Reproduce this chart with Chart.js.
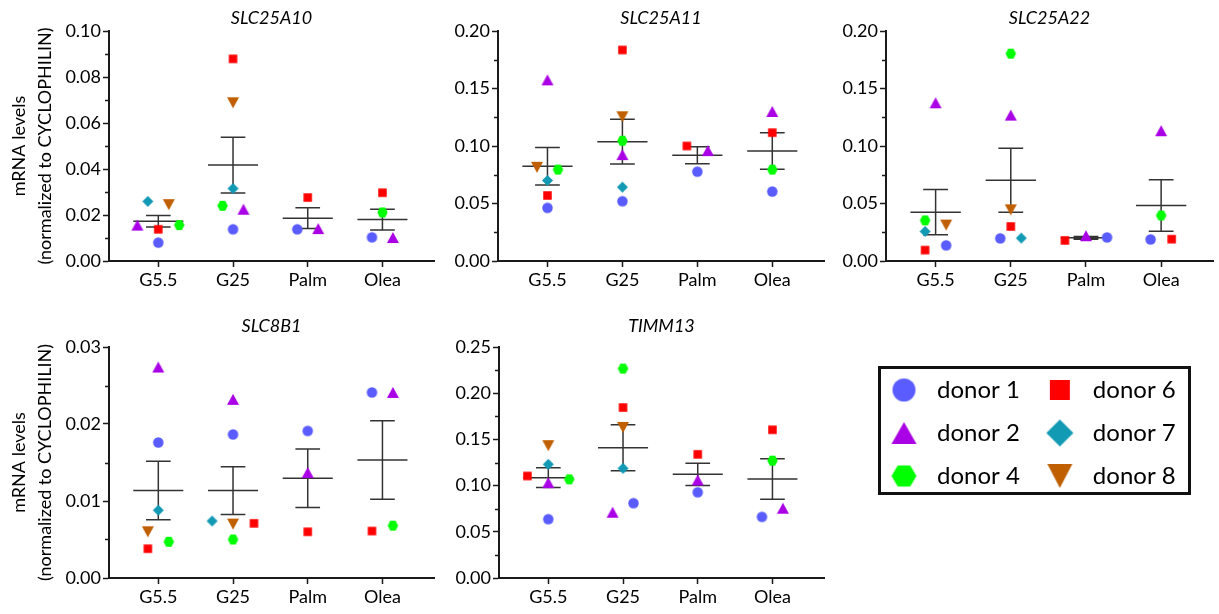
<!DOCTYPE html>
<html>
<head>
<meta charset="utf-8">
<script src="https://cdn.jsdelivr.net/npm/chart.js@4"></script>
<style>
  html, body { margin: 0; padding: 0; background: #fff; }
  #wrap { position: relative; width: 1219px; height: 614px; overflow: hidden; }
  #wrap canvas, .legend-box { position: absolute; }
  .legend-box { left: 878px; top: 366px; width: 313px; height: 129px; border: 3px solid #111; box-sizing: border-box; }
</style>
</head>
<body>
<div id="wrap">
  <canvas id="c1" width="440" height="300" style="left:0;top:0"></canvas>
  <canvas id="c2" width="390" height="300" style="left:440px;top:0"></canvas>
  <canvas id="c3" width="389" height="300" style="left:830px;top:0"></canvas>
  <canvas id="c4" width="440" height="314" style="left:0;top:300px"></canvas>
  <canvas id="c5" width="390" height="314" style="left:440px;top:300px"></canvas>
  <div class="legend-box"></div>
  <canvas id="leg" width="350" height="170" style="left:864px;top:359px"></canvas>
</div>
<script>
// ---- data ----
const groups = ['G5.5', 'G25', 'Palm', 'Olea'];
const donors = ['donor 1', 'donor 2', 'donor 4', 'donor 6', 'donor 7', 'donor 8'];

// one row per donor (1, 2, 4, 6, 7, 8), one column per group, null = no sample
const slc25a10 = [
  [0.0080, 0.0138, 0.0138, 0.0103],
  [0.0156, 0.0225, 0.0141, 0.0102],
  [0.0156, 0.0240, null, 0.0211],
  [0.0138, 0.0879, 0.0276, 0.0297],
  [0.0259, 0.0315, null, null],
  [0.0245, 0.0688, null, null]
];
const slc25a10Mean = [0.0173, 0.0417, 0.0186, 0.0180];
const slc25a10Sem = [0.0025, 0.0121, 0.0045, 0.0045];
const slc25a10Ticks = [0, 0.02, 0.04, 0.06, 0.08, 0.10];

const slc25a11 = [
  [0.0462, 0.0520, 0.0777, 0.0604],
  [0.1575, 0.0925, 0.0960, 0.1300],
  [0.0795, 0.1046, null, 0.0795],
  [0.0570, 0.1835, 0.1000, 0.1116],
  [0.0700, 0.0642, null, null],
  [0.0815, 0.1254, null, null]
];
const slc25a11Mean = [0.0824, 0.1038, 0.0919, 0.0957];
const slc25a11Sem = [0.0164, 0.0194, 0.0074, 0.0159];
const slc25a11Ticks = [0, 0.05, 0.10, 0.15, 0.20];

const slc25a22 = [
  [0.0136, 0.0197, 0.0205, 0.0188],
  [0.1376, 0.1269, 0.0220, 0.1133],
  [0.0353, 0.1803, null, 0.0396],
  [0.0095, 0.0300, 0.0179, 0.0190],
  [0.0257, 0.0199, null, null],
  [0.0312, 0.0445, null, null]
];
const slc25a22Mean = [0.0425, 0.0702, 0.0202, 0.0483];
const slc25a22Sem = [0.0197, 0.0279, 0.0012, 0.0224];
const slc25a22Ticks = [0, 0.05, 0.10, 0.15, 0.20];

const slc8b1 = [
  [0.0176, 0.01865, 0.0191, 0.0241],
  [0.0274, 0.0232, 0.0137, 0.0241],
  [0.0047, 0.0050, null, 0.0068],
  [0.0038, 0.0071, 0.0060, 0.0061],
  [0.0088, 0.0074, null, null],
  [0.0060, 0.0070, null, null]
];
const slc8b1Mean = [0.01135, 0.01135, 0.01295, 0.01532];
const slc8b1Sem = [0.0038, 0.0031, 0.0038, 0.0051];
const slc8b1Ticks = [0, 0.01, 0.02, 0.03];

const timm13 = [
  [0.0637, 0.0810, 0.0928, 0.0662],
  [0.1032, 0.0712, 0.1061, 0.0755],
  [0.1068, 0.2266, null, 0.1270],
  [0.1104, 0.1845, 0.1338, 0.1604],
  [0.1230, 0.1187, null, null],
  [0.1432, 0.1630, null, null]
];
const timm13Mean = [0.1086, 0.1410, 0.1122, 0.1072];
const timm13Sem = [0.0106, 0.0248, 0.0120, 0.0219];
const timm13Ticks = [0, 0.05, 0.10, 0.15, 0.20, 0.25];

// ---- layout / style ----
// side-by-side scatter offsets of overlapping points, in steps
const jit10 = [[0, 0, -1, -1], [-2, 1, 1, 1], [2, -1, 0, 0], [0, 0, 0, 0], [-1, 0, 0, 0], [1, 0, 0, 0]];
const jit11 = [[0, 0, 0, 0], [0, 0, 1, 0], [1, 0, 0, 0], [0, 0, -1, 0], [0, 0, 0, 0], [-1, 0, 0, 0]];
const jit22 = [[1, -1, 2, -1], [0, 0, 0, 0], [-1, 0, 0, 0], [-1, 0, -2, 1], [-1, 1, 0, 0], [1, 0, 0, 0]];
const jit8b1 = [[0, 0, 0, -1], [0, 0, 0, 1], [1, 0, 0, 1], [-1, 2, 0, -1], [0, -2, 0, 0], [-1, 0, 0, 0]];
const jitT13 = [[0, 1, 0, -1], [0, -1, 0, 1], [2, 0, 0, 0], [-2, 0, 0, 0], [0, 0, 0, 0], [0, 0, 0, 0]];
const JIT = 0.14;

const FONT = 'Lato, "Open Sans", sans-serif';
const INK = '#1a1a1a';
const donorColors = ['#5a5cff', '#aa00e6', '#00ff00', '#ff0000', '#1299b4', '#c05f00'];
const donorShapes = ['circle', 'triangle', 'hexagon', 'square', 'diamond', 'triangleDown'];
const plotSizes = [[10.5, 10.5], [12, 11], [10.5, 10], [8.5, 8.5], [11, 11], [12, 11]];
const legendSizes = [[23, 23], [25, 22], [25, 21], [20, 20], [27, 27], [25, 24]];

function makeMarker(shape, color, w, h) {
  const c = document.createElement('canvas');
  c.width = Math.ceil(w) + 2;
  c.height = Math.ceil(h) + 2;
  const g = c.getContext('2d');
  const cx = c.width / 2, cy = c.height / 2, rx = w / 2, ry = h / 2;
  g.fillStyle = color;
  g.beginPath();
  if (shape === 'circle') {
    g.ellipse(cx, cy, rx, ry, 0, 0, Math.PI * 2);
  } else if (shape === 'triangle') {
    g.moveTo(cx, cy - ry); g.lineTo(cx + rx, cy + ry); g.lineTo(cx - rx, cy + ry);
  } else if (shape === 'triangleDown') {
    g.moveTo(cx - rx, cy - ry); g.lineTo(cx + rx, cy - ry); g.lineTo(cx, cy + ry);
  } else if (shape === 'square') {
    g.rect(cx - rx, cy - ry, w, h);
  } else if (shape === 'diamond') {
    g.moveTo(cx, cy - ry); g.lineTo(cx + rx, cy); g.lineTo(cx, cy + ry); g.lineTo(cx - rx, cy);
  } else if (shape === 'hexagon') {
    g.moveTo(cx - rx, cy); g.lineTo(cx - rx / 2, cy - ry); g.lineTo(cx + rx / 2, cy - ry);
    g.lineTo(cx + rx, cy); g.lineTo(cx + rx / 2, cy + ry); g.lineTo(cx - rx / 2, cy + ry);
  }
  g.closePath();
  g.fill();
  return c;
}

const plotMarkers = donorShapes.map((s, k) => makeMarker(s, donorColors[k], plotSizes[k][0], plotSizes[k][1]));
const legendMarkers = donorShapes.map((s, k) => makeMarker(s, donorColors[k], legendSizes[k][0], legendSizes[k][1]));

// mean line + SEM whiskers, drawn behind the points
function meanSem(means, sems) {
  return {
    id: 'meanSem',
    beforeDatasetsDraw(chart) {
      const {ctx, scales: {x, y}} = chart;
      ctx.save();
      ctx.strokeStyle = '#333';
      ctx.lineWidth = 1.5;
      means.forEach((m, i) => {
        const px = x.getPixelForValue(i);
        const mw = x.getPixelForValue(i + 0.335) - px;
        const cw = x.getPixelForValue(i + 0.165) - px;
        const ym = y.getPixelForValue(m);
        const yu = y.getPixelForValue(m + sems[i]);
        const yl = y.getPixelForValue(m - sems[i]);
        ctx.beginPath();
        ctx.moveTo(px - mw, ym); ctx.lineTo(px + mw, ym);
        ctx.moveTo(px, yu); ctx.lineTo(px, yl);
        ctx.moveTo(px - cw, yu); ctx.lineTo(px + cw, yu);
        ctx.moveTo(px - cw, yl); ctx.lineTo(px + cw, yl);
        ctx.stroke();
      });
      ctx.restore();
    }
  };
}

// short minor ticks half way between the labelled ones
const minorTicks = {
  id: 'minorTicks',
  afterDraw(chart) {
    const {ctx, chartArea, scales: {y}} = chart;
    ctx.save();
    ctx.strokeStyle = INK;
    ctx.lineWidth = 1.5;
    ctx.beginPath();
    for (let i = 0; i < y.ticks.length - 1; i++) {
      const py = Math.round(y.getPixelForValue((y.ticks[i].value + y.ticks[i + 1].value) / 2)) + 0.5;
      ctx.moveTo(chartArea.left - 4, py);
      ctx.lineTo(chartArea.left, py);
    }
    ctx.stroke();
    ctx.restore();
  }
};

function genePanel(id, gene, values, means, sems, ticks, jitter, lay) {
  const datasets = donors.map((d, k) => ({
    label: d,
    data: values[k].map((v, i) => (v === null ? null : {x: i + jitter[k][i] * JIT, y: v})).filter(p => p),
    pointStyle: plotMarkers[k],
    pointRadius: 5,
    backgroundColor: donorColors[k],
    borderColor: donorColors[k],
    clip: false
  }));
  const tickFont = {family: FONT, size: 18};
  return new Chart(document.getElementById(id), {
    type: 'scatter',
    data: {datasets},
    options: {
      responsive: false,
      animation: false,
      devicePixelRatio: 1,
      layout: {padding: {left: 0, right: lay.padRight, top: 0, bottom: 0}},
      plugins: {
        legend: {display: false},
        tooltip: {enabled: false},
        title: {
          display: true, text: gene, fullSize: false, color: '#000',
          font: {family: FONT, size: 18, style: 'italic', weight: 'normal'},
          padding: {top: lay.titleTop, bottom: lay.titleBottom}
        }
      },
      scales: {
        x: {
          type: 'linear', min: -0.66, max: 3.69,
          afterFit: s => { s.height = lay.xHeight; },
          afterBuildTicks: s => { s.ticks = groups.map((g, i) => ({value: i})); },
          ticks: {callback: v => groups[v], font: tickFont, color: '#000', padding: 2, autoSkip: false, maxRotation: 0},
          grid: {drawOnChartArea: false, drawTicks: true, tickLength: 6, tickWidth: 1.5, tickColor: INK},
          border: {display: true, color: INK, width: 2}
        },
        y: {
          min: 0, max: ticks[ticks.length - 1],
          afterFit: s => { s.width = lay.yWidth; },
          afterBuildTicks: s => { s.ticks = ticks.map(v => ({value: v})); },
          ticks: {callback: v => v.toFixed(2), font: tickFont, color: '#000', padding: 2, autoSkip: false},
          grid: {drawOnChartArea: false, drawTicks: true, tickLength: 6, tickWidth: 1.5, tickColor: INK},
          border: {display: true, color: INK, width: 2},
          title: {
            display: lay.yTitle, text: ['mRNA levels', '(normalized to CYCLOPHILIN)'], color: '#000',
            font: {family: FONT, size: 18, lineHeight: 1.4}, padding: {top: 7, bottom: 0}
          }
        }
      }
    },
    plugins: [meanSem(means, sems), minorTicks]
  });
}

const topRow = {titleTop: 7, titleBottom: 2.4, xHeight: 39};
const bottomRow = {titleTop: 15.7, titleBottom: 9.7, xHeight: 36};

genePanel('c1', 'SLC25A10', slc25a10, slc25a10Mean, slc25a10Sem, slc25a10Ticks, jit10,
  Object.assign({yWidth: 109, padRight: 5, yTitle: true}, topRow));
genePanel('c2', 'SLC25A11', slc25a11, slc25a11Mean, slc25a11Sem, slc25a11Ticks, jit11,
  Object.assign({yWidth: 58, padRight: 3, yTitle: false}, topRow));
genePanel('c3', 'SLC25A22', slc25a22, slc25a22Mean, slc25a22Sem, slc25a22Ticks, jit22,
  Object.assign({yWidth: 56, padRight: 4, yTitle: false}, topRow));
genePanel('c4', 'SLC8B1', slc8b1, slc8b1Mean, slc8b1Sem, slc8b1Ticks, jit8b1,
  Object.assign({yWidth: 109, padRight: 4, yTitle: true}, bottomRow));
genePanel('c5', 'TIMM13', timm13, timm13Mean, timm13Sem, timm13Ticks, jitT13,
  Object.assign({yWidth: 59, padRight: 3, yTitle: false}, bottomRow));

// legend: two columns of three, drawn by the Chart.js legend plugin
new Chart(document.getElementById('leg'), {
  type: 'scatter',
  data: {datasets: []},
  options: {
    responsive: false,
    animation: false,
    devicePixelRatio: 1,
    layout: {padding: 0},
    scales: {x: {display: false}, y: {display: false}},
    plugins: {
      tooltip: {enabled: false},
      legend: {
        display: true, position: 'left', align: 'start', maxWidth: 345,
        labels: {
          usePointStyle: true, pointStyleWidth: 42, padding: 19, color: '#000',
          font: {family: FONT, size: 24},
          generateLabels: () => donors.map((d, k) => ({
            text: d, pointStyle: legendMarkers[k], fillStyle: donorColors[k],
            strokeStyle: donorColors[k], lineWidth: 0, hidden: false, datasetIndex: k
          }))
        }
      }
    }
  }
});
</script>
</body>
</html>
